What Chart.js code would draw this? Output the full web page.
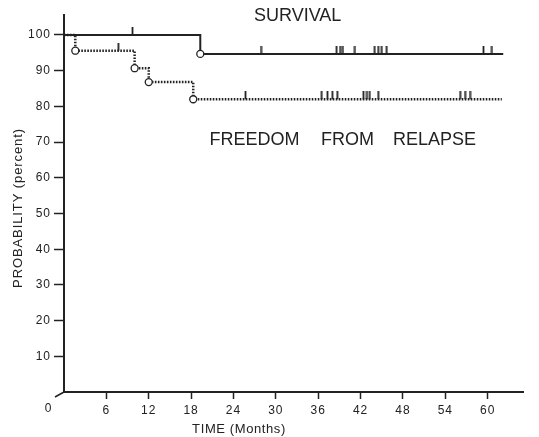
<!DOCTYPE html>
<html>
<head>
<meta charset="utf-8">
<script src="https://cdn.jsdelivr.net/npm/chart.js@4.4.1/dist/chart.umd.min.js"></script>
<style>
  html, body { margin: 0; padding: 0; background: #fff; }
  #wrap { width: 539px; height: 437px; }
</style>
</head>
<body>
<div id="wrap"><canvas id="kmChart"></canvas></div>
<script>
// Kaplan-Meier steps (months, percent)
const survivalTimes = [0, 19.3, 62.2];
const survivalValues = [100, 94.7, 94.7];
const relapseTimes = [0, 1.6, 10.0, 12.0, 18.3, 62.0];
const relapseValues = [100, 95.6, 90.7, 86.8, 82.0, 82.0];

// censored patients (months)
const survivalCensored = [9.7, 27.9, 38.6, 39.1, 39.5, 41.2, 44.0, 44.5, 45.0, 45.7, 59.4, 60.6];
const relapseCensored = [7.7, 25.7, 36.5, 37.3, 38.0, 38.7, 42.4, 42.9, 43.3, 44.5, 56.1, 56.8, 57.5];

const xTickValues = [0, 6, 12, 18, 24, 30, 36, 42, 48, 54, 60];
const yTickValues = [10, 20, 30, 40, 50, 60, 70, 80, 90, 100];

// curve labels, placed in data units (x = months, y = percent at baseline)
const curveLabels = [
  { text: 'SURVIVAL', x: 26.9, y: 104.0 },
  { text: 'FREEDOM', x: 20.6, y: 69.2 },
  { text: 'FROM', x: 36.4, y: 69.2 },
  { text: 'RELAPSE', x: 46.6, y: 69.2 }
];

const ink = '#222';

function toPoints(xs, ys) {
  return xs.map((x, i) => ({ x: x, y: ys[i] }));
}

// value of a step curve at time t
function levelAt(xs, ys, t) {
  let v = ys[0];
  for (let i = 0; i < xs.length; i++) {
    if (xs[i] <= t) v = ys[i];
  }
  return v;
}

function eventPoints(xs, ys) {
  const pts = [];
  for (let i = 1; i < xs.length - 1; i++) pts.push({ x: xs[i], y: ys[i] });
  return pts;
}

// small vertical censor mark sitting on top of the curve
function makeTickMark() {
  const c = document.createElement('canvas');
  c.width = 3;
  c.height = 16;
  const g = c.getContext('2d');
  g.fillStyle = ink;
  g.fillRect(0.6, 0, 1.8, 8);
  return c;
}
const tickMark = makeTickMark();

const textPlugin = {
  id: 'kmText',
  beforeDraw(chart) {
    // wider spaced tick numbers like the original typesetting
    chart.ctx.letterSpacing = '1px';
  },
  afterDraw(chart) {
    const ctx = chart.ctx;
    const xs = chart.scales.x, ys = chart.scales.y;
    ctx.save();
    ctx.fillStyle = ink;
    ctx.letterSpacing = '0px';

    // curve labels
    ctx.font = '18px "Liberation Sans", Arial, sans-serif';
    ctx.textAlign = 'left';
    ctx.textBaseline = 'alphabetic';
    curveLabels.forEach(l => {
      ctx.fillText(l.text, xs.getPixelForValue(l.x), ys.getPixelForValue(l.y));
    });

    // "0" label, set off to the left of the origin
    ctx.font = '12px "Liberation Sans", Arial, sans-serif';
    ctx.textAlign = 'center';
    ctx.textBaseline = 'middle';
    ctx.fillText('0', xs.getPixelForValue(0) - 16, ys.bottom + 17);

    // axis break mark at origin
    ctx.strokeStyle = ink;
    ctx.lineWidth = 1.5;
    ctx.beginPath();
    ctx.moveTo(xs.left - 9, ys.bottom + 5);
    ctx.lineTo(xs.left, ys.bottom);
    ctx.stroke();

    // axis titles
    ctx.letterSpacing = '0.6px';
    ctx.font = '13px "Liberation Sans", Arial, sans-serif';
    ctx.textAlign = 'center';
    ctx.fillText('TIME (Months)', 239, 429);

    ctx.letterSpacing = '0.9px';
    ctx.translate(18, 208);
    ctx.rotate(-Math.PI / 2);
    ctx.fillText('PROBABILITY (percent)', 0, 0);
    ctx.restore();
    ctx.letterSpacing = '0px';
  }
};

const ctx = document.getElementById('kmChart').getContext('2d');
const kmChart = new Chart(ctx, {
  type: 'scatter',
  data: {
    datasets: [
      {
        label: 'events',
        data: eventPoints(survivalTimes, survivalValues).concat(eventPoints(relapseTimes, relapseValues)),
        pointStyle: 'circle',
        pointRadius: 3.5,
        pointBackgroundColor: '#fff',
        pointBorderColor: ink,
        pointBorderWidth: 1.3,
        showLine: false
      },
      {
        label: 'survival censored',
        data: survivalCensored.map(t => ({ x: t, y: levelAt(survivalTimes, survivalValues, t) })),
        pointStyle: tickMark,
        showLine: false
      },
      {
        label: 'relapse censored',
        data: relapseCensored.map(t => ({ x: t, y: levelAt(relapseTimes, relapseValues, t) })),
        pointStyle: tickMark,
        showLine: false
      },
      {
        label: 'Survival',
        data: toPoints(survivalTimes, survivalValues),
        showLine: true,
        stepped: 'before',
        borderColor: ink,
        borderWidth: 2,
        pointRadius: 0
      },
      {
        label: 'Freedom from relapse',
        data: toPoints(relapseTimes, relapseValues),
        showLine: true,
        stepped: 'before',
        borderColor: ink,
        borderWidth: 2.5,
        borderDash: [1.6, 1.4],
        borderCapStyle: 'butt',
        pointRadius: 0
      }
    ]
  },
  options: {
    responsive: true,
    maintainAspectRatio: false,
    animation: false,
    clip: false,
    layout: { padding: { top: 15, right: 16, bottom: 0, left: 0 } },
    plugins: {
      legend: { display: false },
      tooltip: { enabled: false }
    },
    scales: {
      x: {
        type: 'linear',
        min: 0,
        max: 65,
        afterBuildTicks: s => { s.ticks = xTickValues.filter(v => v > 0).map(v => ({ value: v })); },
        afterFit: s => { s.height = 45; },
        border: { display: true, color: ink, width: 2 },
        grid: { drawOnChartArea: false, drawTicks: true, tickLength: 7, tickColor: ink, tickWidth: 1.5 },
        ticks: {
          padding: 4,
          color: ink,
          maxRotation: 0,
          font: { family: '"Liberation Sans", Arial, sans-serif', size: 12 }
        }
      },
      y: {
        type: 'linear',
        min: 0,
        max: 105.6,
        afterBuildTicks: s => { s.ticks = yTickValues.map(v => ({ value: v })); },
        afterFit: s => { s.width = 64; },
        border: { display: true, color: ink, width: 2 },
        grid: { drawOnChartArea: false, drawTicks: true, tickLength: 10, tickColor: ink, tickWidth: 1.5 },
        ticks: {
          padding: 3,
          color: ink,
          font: { family: '"Liberation Sans", Arial, sans-serif', size: 12 }
        }
      }
    }
  },
  plugins: [textPlugin]
});
</script>
</body>
</html>
